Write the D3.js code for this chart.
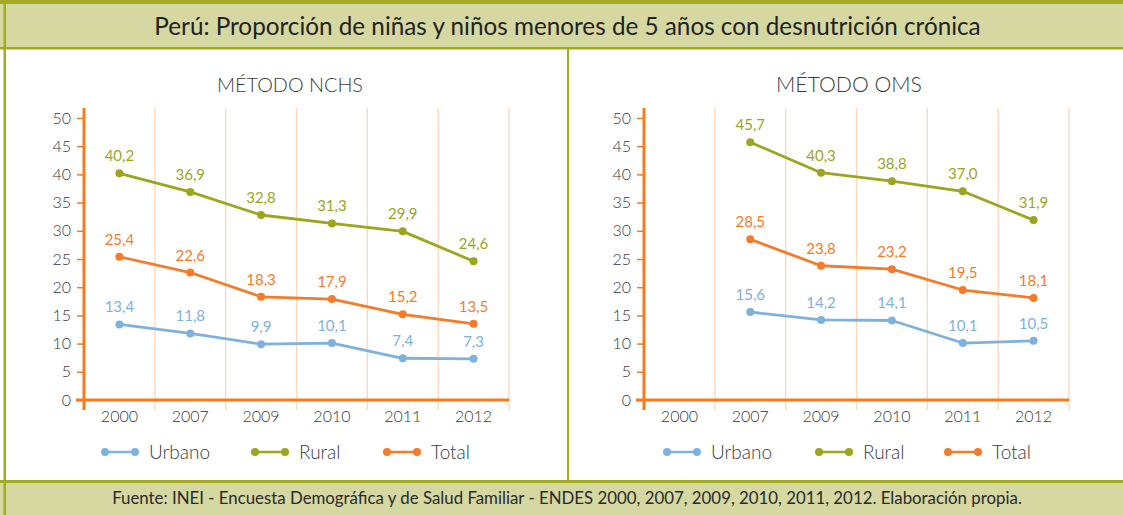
<!DOCTYPE html>
<html><head><meta charset="utf-8">
<script src="https://cdn.jsdelivr.net/npm/d3@7"></script>
<style>
html,body{margin:0;padding:0;background:#fff;}
svg{display:block;font-family:Lato,"Open Sans",sans-serif;}
</style></head>
<body>
<svg id="c" width="1123" height="515"></svg>
<script>
const years = ["2000","2007","2009","2010","2011","2012"];
const yTicks = [0,5,10,15,20,25,30,35,40,45,50];
const seriesNames = ["Urbano","Rural","Total"];
const nchsUrbano = [13.4,11.8,9.9,10.1,7.4,7.3];
const nchsRural  = [40.2,36.9,32.8,31.3,29.9,24.6];
const nchsTotal  = [25.4,22.6,18.3,17.9,15.2,13.5];
const omsUrbano  = [null,15.6,14.2,14.1,10.1,10.5];
const omsRural   = [null,45.7,40.3,38.8,37.0,31.9];
const omsTotal   = [null,28.5,23.8,23.2,19.5,18.1];
const titleText = "Perú: Proporción de niñas y niños menores de 5 años con desnutrición crónica";
const footText = "Fuente: INEI - Encuesta Demográfica y de Salud Familiar - ENDES 2000, 2007, 2009, 2010, 2011, 2012. Elaboración propia.";
const panelTitles = ["MÉTODO NCHS","MÉTODO OMS"];

const colors = {Urbano:"#7db2df", Rural:"#9ba61d", Total:"#f47b2a"};
const olive = "#a3ab22", band = "#d5d8a0", axisCol = "#f47b20", gridCol = "#fdd6b8", textCol = "#3a3a3a";
const fmt = v => d3.format(".1f")(v).replace(".", ",");

const svg = d3.select("#c");

function fitText(sel, target){
  const n = sel.node(); const w = n.getComputedTextLength();
  const fs = parseFloat(sel.attr("font-size"));
  sel.attr("font-size", (fs*target/w).toFixed(2));
}

// frame
svg.append("rect").attr("x",0).attr("y",0).attr("width",1123).attr("height",48).attr("fill",band);
svg.append("rect").attr("x",0).attr("y",0).attr("width",1123).attr("height",4).attr("fill",olive);
svg.append("rect").attr("x",0).attr("y",47).attr("width",1123).attr("height",2.5).attr("fill",olive);
svg.append("rect").attr("x",0).attr("y",481).attr("width",1123).attr("height",34).attr("fill",band);
svg.append("rect").attr("x",0).attr("y",480).attr("width",1123).attr("height",3).attr("fill",olive);
svg.append("rect").attr("x",3.5).attr("y",0).attr("width",2.5).attr("height",515).attr("fill",olive);
svg.append("rect").attr("x",567).attr("y",48).attr("width",2).attr("height",433).attr("fill",olive);

const t = svg.append("text").attr("x",567.5).attr("y",35).attr("text-anchor","middle")
  .attr("font-size",22).attr("fill","#222").text(titleText);
fitText(t, 827);
const f = svg.append("text").attr("x",567).attr("y",504).attr("text-anchor","middle")
  .attr("font-size",15).attr("fill","#2a2a2a").text(footText);
fitText(f, 910);

function panel(x0, x1, titleX, title, data, legendXs){
  const g = svg.append("g").attr("font-weight",300);
  const x = d3.scaleBand().domain(years).range([x0,x1]);
  const y = d3.scaleLinear().domain([0,50]).range([400,118]);
  // title
  const pt = g.append("text").attr("x",titleX).attr("y",92).attr("text-anchor","middle")
    .attr("font-size",18).attr("fill",textCol).text(title);
  fitText(pt, 146);
  // grid lines at band boundaries
  years.forEach((yr,i)=>{
    const gx = x(yr)+x.bandwidth();
    g.append("line").attr("x1",gx).attr("x2",gx).attr("y1",108).attr("y2",410)
      .attr("stroke",gridCol).attr("stroke-width",1.3);
  });
  // y axis
  const ya = g.append("g").attr("transform",`translate(${x0},0)`)
    .call(d3.axisLeft(y).tickValues(yTicks).tickSize(7).tickPadding(6).tickFormat(d3.format("d")));
  ya.select(".domain").remove();
  ya.selectAll(".tick line").attr("stroke",axisCol).attr("stroke-width",1.5);
  ya.selectAll(".tick text").attr("font-size",16).attr("fill",textCol).attr("font-family","Lato, sans-serif").attr("font-weight",300);
  // x axis
  const xa = g.append("g").attr("transform","translate(0,400)")
    .call(d3.axisBottom(x).tickSize(0).tickPadding(11));
  xa.select(".domain").remove();
  xa.selectAll(".tick text").attr("font-size",16).attr("fill",textCol).attr("font-family","Lato, sans-serif").attr("font-weight",300);
  g.append("line").attr("x1",x0-8).attr("x2",x1).attr("y1",y(0)).attr("y2",y(0))
    .attr("stroke",axisCol).attr("stroke-width",3);
  g.append("line").attr("x1",x0).attr("x2",x0).attr("y1",108).attr("y2",410)
    .attr("stroke",axisCol).attr("stroke-width",3);
  // series
  const line = d3.line().defined(d=>d.v!=null).x(d=>x(d.yr)+x.bandwidth()/2).y(d=>y(d.v));
  seriesNames.forEach((name,si)=>{
    const pts = years.map((yr,i)=>({yr, v:data[si][i]}));
    g.append("path").datum(pts).attr("d",line).attr("fill","none")
      .attr("stroke",colors[name]).attr("stroke-width",2.8).attr("stroke-linejoin","round");
    const valid = pts.filter(d=>d.v!=null);
    g.selectAll(null).data(valid).enter().append("circle")
      .attr("cx",d=>x(d.yr)+x.bandwidth()/2).attr("cy",d=>y(d.v)).attr("r",4)
      .attr("fill",colors[name]);
    g.selectAll(null).data(valid).enter().append("text")
      .attr("x",d=>x(d.yr)+x.bandwidth()/2).attr("y",d=>y(d.v)-12)
      .attr("text-anchor","middle").attr("font-size",15).attr("font-weight",400).attr("fill",colors[name])
      .text(d=>fmt(d.v));
  });
  // legend
  seriesNames.forEach((name,i)=>{
    const lx = legendXs[i];
    g.append("line").attr("x1",lx).attr("x2",lx+30).attr("y1",452).attr("y2",452)
      .attr("stroke",colors[name]).attr("stroke-width",2.5);
    g.append("circle").attr("cx",lx).attr("cy",452).attr("r",4).attr("fill",colors[name]);
    g.append("circle").attr("cx",lx+30).attr("cy",452).attr("r",4).attr("fill",colors[name]);
    g.append("text").attr("x",lx+44).attr("y",458.5).attr("font-size",19).attr("fill",textCol).text(name);
  });
}

panel(84, 509, 290, panelTitles[0], [nchsUrbano,nchsRural,nchsTotal], [105,255,387]);
panel(644, 1069, 849, panelTitles[1], [omsUrbano,omsRural,omsTotal], [667,819,948]);
</script>
</body></html>
